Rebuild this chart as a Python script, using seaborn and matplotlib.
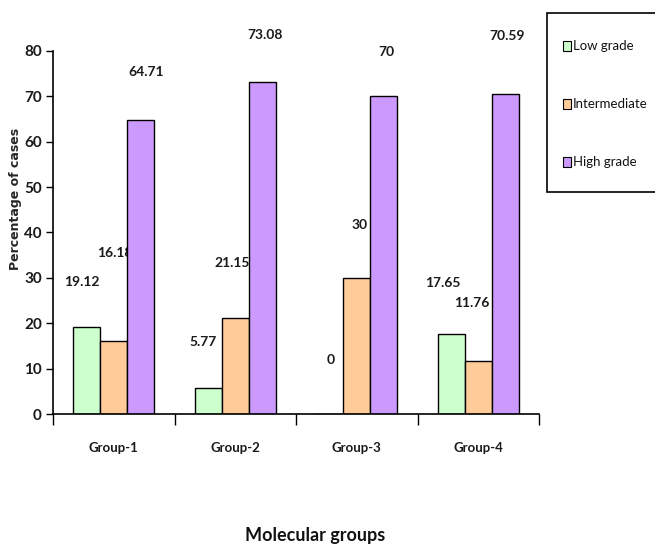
import matplotlib
matplotlib.use("Agg")
import matplotlib.pyplot as plt
from matplotlib.patches import Rectangle
import seaborn as sns
import pandas as pd

groups = ["Group-1", "Group-2", "Group-3", "Group-4"]
grades = ["Low grade", "Intermediate", "High grade"]
low_grade = [19.12, 5.77, 0, 17.65]
intermediate = [16.18, 21.15, 30, 11.76]
high_grade = [64.71, 73.08, 70, 70.59]
colors = ["#CCFFCC", "#FFCC99", "#CC99FF"]

# label placement (pixel offsets from bar top), one row per grade
label_dx = [[-5, -5, 1, -8], [1, -3, 3, -6], [5, 3, 3, 2]]
label_dy = [[45, 46, 54, 51], [88, 55, 53, 58], [48, 47, 44, 58]]

df = pd.DataFrame({
    "group": groups * 3,
    "grade": [g for g in grades for _ in groups],
    "value": low_grade + intermediate + high_grade,
})

sns.set_style("white")
plt.rcParams["font.family"] = ["Lato", "DejaVu Sans"]

fig = plt.figure(figsize=(6.55, 5.52), dpi=100)
ax = fig.add_axes([53 / 655, 1 - 414 / 552, 486 / 655, 363 / 552])

sns.barplot(data=df, x="group", y="value", hue="grade", order=groups,
            hue_order=grades, palette=colors, width=0.667, gap=0,
            edgecolor="black", linewidth=1.0, saturation=1, ax=ax,
            legend=False)

for i, cont in enumerate(ax.containers):
    for j, bar in enumerate(cont):
        v = [low_grade, intermediate, high_grade][i][j]
        ax.annotate(f"{v:g}", (bar.get_x() + bar.get_width() / 2, v),
                    xytext=(label_dx[i][j], label_dy[i][j]),
                    textcoords="offset pixels", ha="center", va="center",
                    fontsize=10, fontweight="bold", color="#1a1a1a",
                    annotation_clip=False, zorder=0.5)

ax.set_ylim(0, 80)
ax.set_xlim(-0.5, 3.5)
ax.set_yticks(range(0, 81, 10))
ax.set_xticks([-0.5, 0.5, 1.5, 2.5, 3.5], minor=True)
ax.tick_params(axis="x", which="major", length=0, pad=20, labelsize=9.5)
ax.tick_params(axis="x", which="minor", length=8, width=1, color="black",
               direction="out", bottom=True)
ax.tick_params(axis="y", length=5, width=1, color="black", direction="out",
               left=True, labelsize=11, pad=3)
for lab in ax.get_xticklabels() + ax.get_yticklabels():
    lab.set_fontweight("bold")
    lab.set_color("#1a1a1a")
ax.set_xlabel("")
ax.set_ylabel("")
for s in ["top", "right"]:
    ax.spines[s].set_visible(False)
for s in ["left", "bottom"]:
    ax.spines[s].set_color("black")
    ax.spines[s].set_linewidth(1.2)

fig.text(16 / 655, 1 - 199 / 552, "Percentage of cases", rotation=90,
         ha="center", va="center", fontsize=9, fontweight="bold",
         family=["DejaVu Sans"])
fig.text(315 / 655, 1 - 536 / 552, "Molecular groups", ha="center",
         va="center", fontsize=13, fontweight="bold", color="#111111")

# legend box
fig.patches.append(Rectangle((547 / 655, 1 - 192 / 552), 120 / 655,
                             179 / 552, transform=fig.transFigure,
                             facecolor="white", edgecolor="black",
                             linewidth=1.2))
for k, (name, c) in enumerate(zip(grades, colors)):
    y = 1 - (46 + 58 * k) / 552
    fig.patches.append(Rectangle((563 / 655, y - 5 / 552), 8 / 655, 10 / 552,
                                 transform=fig.transFigure, facecolor=c,
                                 edgecolor="black", linewidth=0.8))
    fig.text(573 / 655, y, name, ha="left", va="center", fontsize=9.5,
             color="#111111")

fig.savefig("out.png", dpi=100)
